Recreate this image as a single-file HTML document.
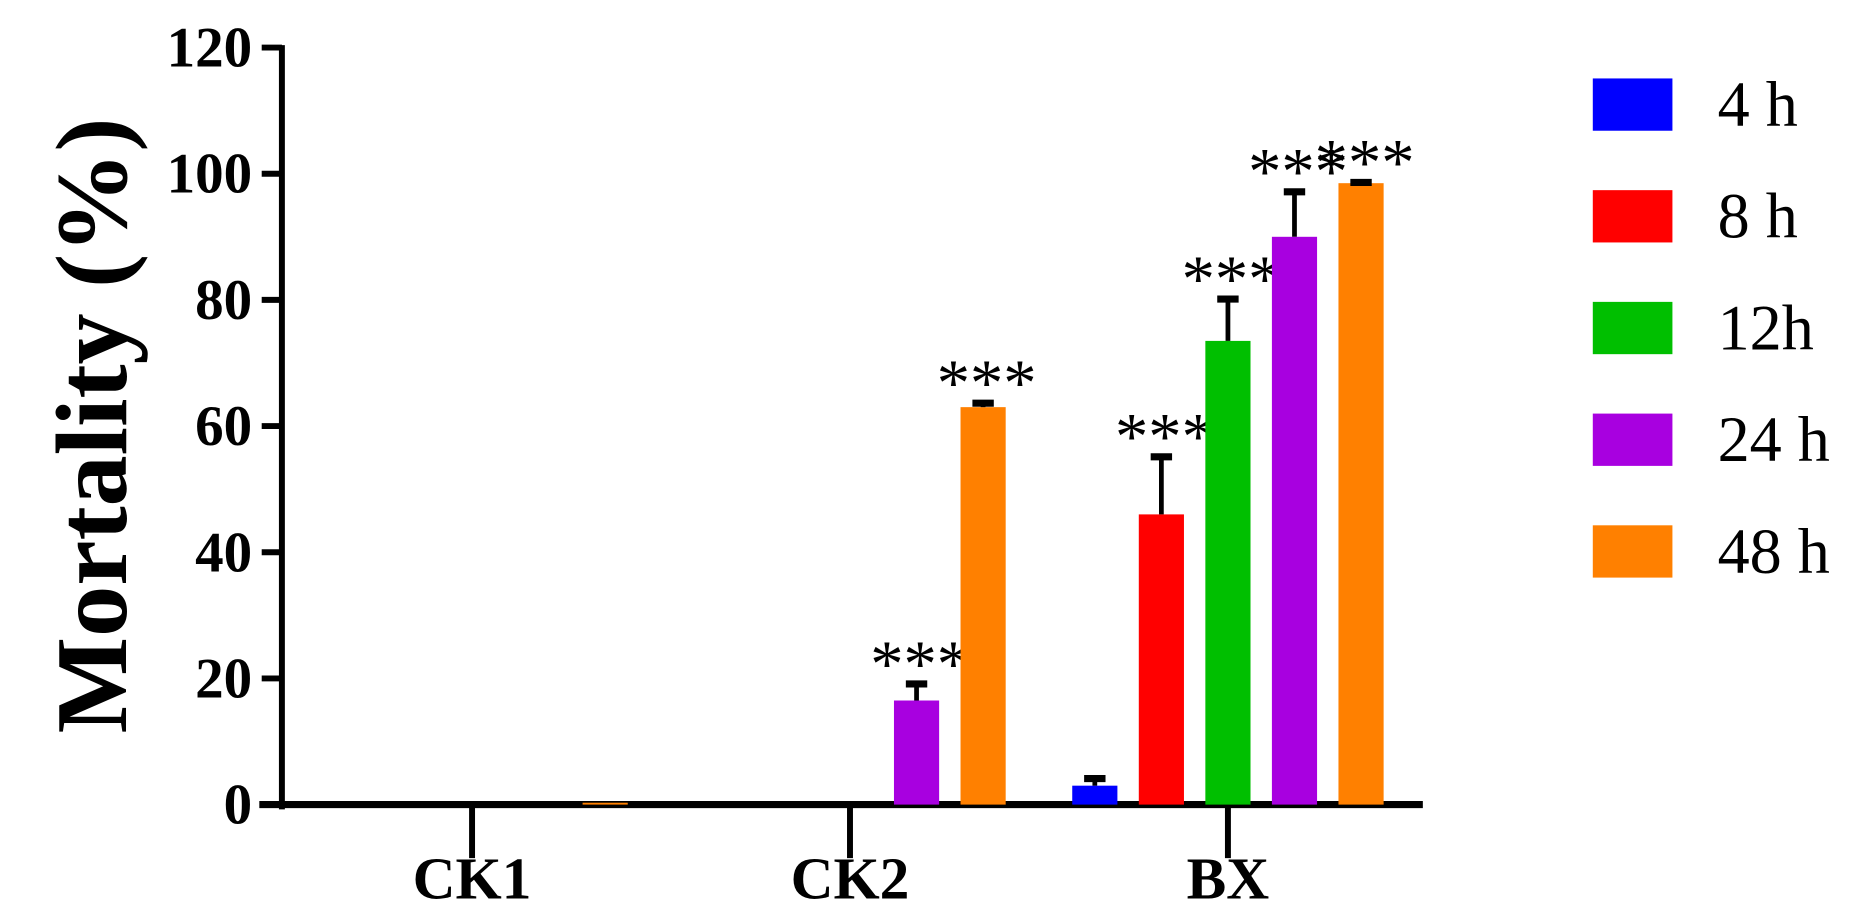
<!DOCTYPE html>
<html><head><meta charset="utf-8"><style>html,body{margin:0;padding:0;background:#fff}svg{display:block}</style></head>
<body>
<svg id="chart" width="1864" height="908" viewBox="0 0 1568 764" xmlns="http://www.w3.org/2000/svg" font-family="'Liberation Serif', serif">
<g id="axes"></g><g id="bars"></g><g id="legend"></g>
</svg>
<script>
const categories = ["CK1", "CK2", "BX"];
const seriesNames = ["4 h", "8 h", "12h", "24 h", "48 h"];
const seriesColors = ["#0000ff", "#ff0000", "#00bf00", "#a800e0", "#ff8000"];
const vals4h = [0, 0, 3];
const vals8h = [0, 0, 46];
const vals12h = [0, 0, 73.5];
const vals24h = [0, 16.5, 90];
const vals48h = [0.3, 63, 98.5];
const err4h = [0, 0, 1.5];
const err8h = [0, 0, 9.5];
const err12h = [0, 0, 7];
const err24h = [0, 3, 7.5];
const err48h = [0, 1, 0.5];
const sig4h = ["", "", ""];
const sig8h = ["", "", "***"];
const sig12h = ["", "", "***"];
const sig24h = ["", "***", "***"];
const sig48h = ["", "***", "***"];
const yTicks = [0, 20, 40, 60, 80, 100, 120];

const series = [vals4h, vals8h, vals12h, vals24h, vals48h];
const errs = [err4h, err8h, err12h, err24h, err48h];
const sigs = [sig4h, sig8h, sig12h, sig24h, sig48h];
const NS = "http://www.w3.org/2000/svg";
function mk(tag, attrs, parent, text) {
  const e = document.createElementNS(NS, tag);
  for (const k in attrs) e.setAttribute(k, attrs[k]);
  if (text !== undefined) e.textContent = text;
  parent.appendChild(e); return e;
}
const y0 = 677, yTop = 40, yMax = 120;
const yScale = v => y0 - (v / yMax) * (y0 - yTop);
const xCenter = i => 397 + i * 318;
const barW = 38, step = 56;
const barX = (i, s) => xCenter(i) + (s - 2) * step;

const axes = document.getElementById("axes");
let yl = mk("line", {x1: 237, y1: yTop - 2, x2: 237, y2: y0 + 4, stroke: "#000", "stroke-width": 5}, axes);


yTicks.forEach(t => {
  const y = yScale(t);
  const tk = mk("line", {x1: 220, y1: y, x2: 237, y2: y, stroke: "#000", "stroke-width": 5}, axes);
  
  
  const lb = mk("text", {x: 212, y: y + 16, "text-anchor": "end", "font-size": 48, "font-weight": "bold"}, axes, t);
  
  
});
let xl = mk("line", {x1: 218, y1: y0, x2: 1197, y2: y0, stroke: "#000", "stroke-width": 6}, axes);


categories.forEach((c, i) => {
  const tk = mk("line", {x1: xCenter(i), y1: y0, x2: xCenter(i), y2: y0 + 45, stroke: "#000", "stroke-width": 5}, axes);
  
  
  const lb = mk("text", {x: xCenter(i), y: 756, "text-anchor": "middle", "font-size": 50, "font-weight": "bold"}, axes, c);
  
  
});
let yt = mk("text", {x: 0, y: 0, transform: "translate(106,358) rotate(-90)", "text-anchor": "middle", "font-size": 86, "font-weight": "bold"}, axes, "Mortality (%)");



const bars = document.getElementById("bars");
series.forEach((vals, s) => {
  vals.forEach((v, i) => {
    const cx = barX(i, s);
    if (v > 0) {
      const r = mk("rect", {x: cx - barW / 2, y: yScale(v), width: barW, height: y0 - yScale(v), fill: seriesColors[s]}, bars);
      
      
      const e = errs[s][i];
      if (e > 0) {
        const top = yScale(v + e);
        const el = mk("line", {x1: cx, y1: yScale(v), x2: cx, y2: top, stroke: "#000", "stroke-width": 4}, bars);
        
        
        const cap = mk("line", {x1: cx - 9, y1: top + 2, x2: cx + 9, y2: top + 2, stroke: "#000", "stroke-width": 6}, bars);
        
        
      }
      if (sigs[s][i]) {
        const st = mk("text", {x: cx + 3, y: yScale(v + e) + 4, "text-anchor": "middle", "font-size": 56}, bars, sigs[s][i]);
        
        
      }
    }
  });
});

const legend = document.getElementById("legend");
seriesNames.forEach((n, s) => {
  const cy = 88 + s * 94;
  const r = mk("rect", {x: 1340, y: cy - 22, width: 67, height: 44, fill: seriesColors[s]}, legend);
  
  
  const t = mk("text", {x: 1445, y: cy + 18, "font-size": 54}, legend, n);
  
  
});
</script>
</body></html>
